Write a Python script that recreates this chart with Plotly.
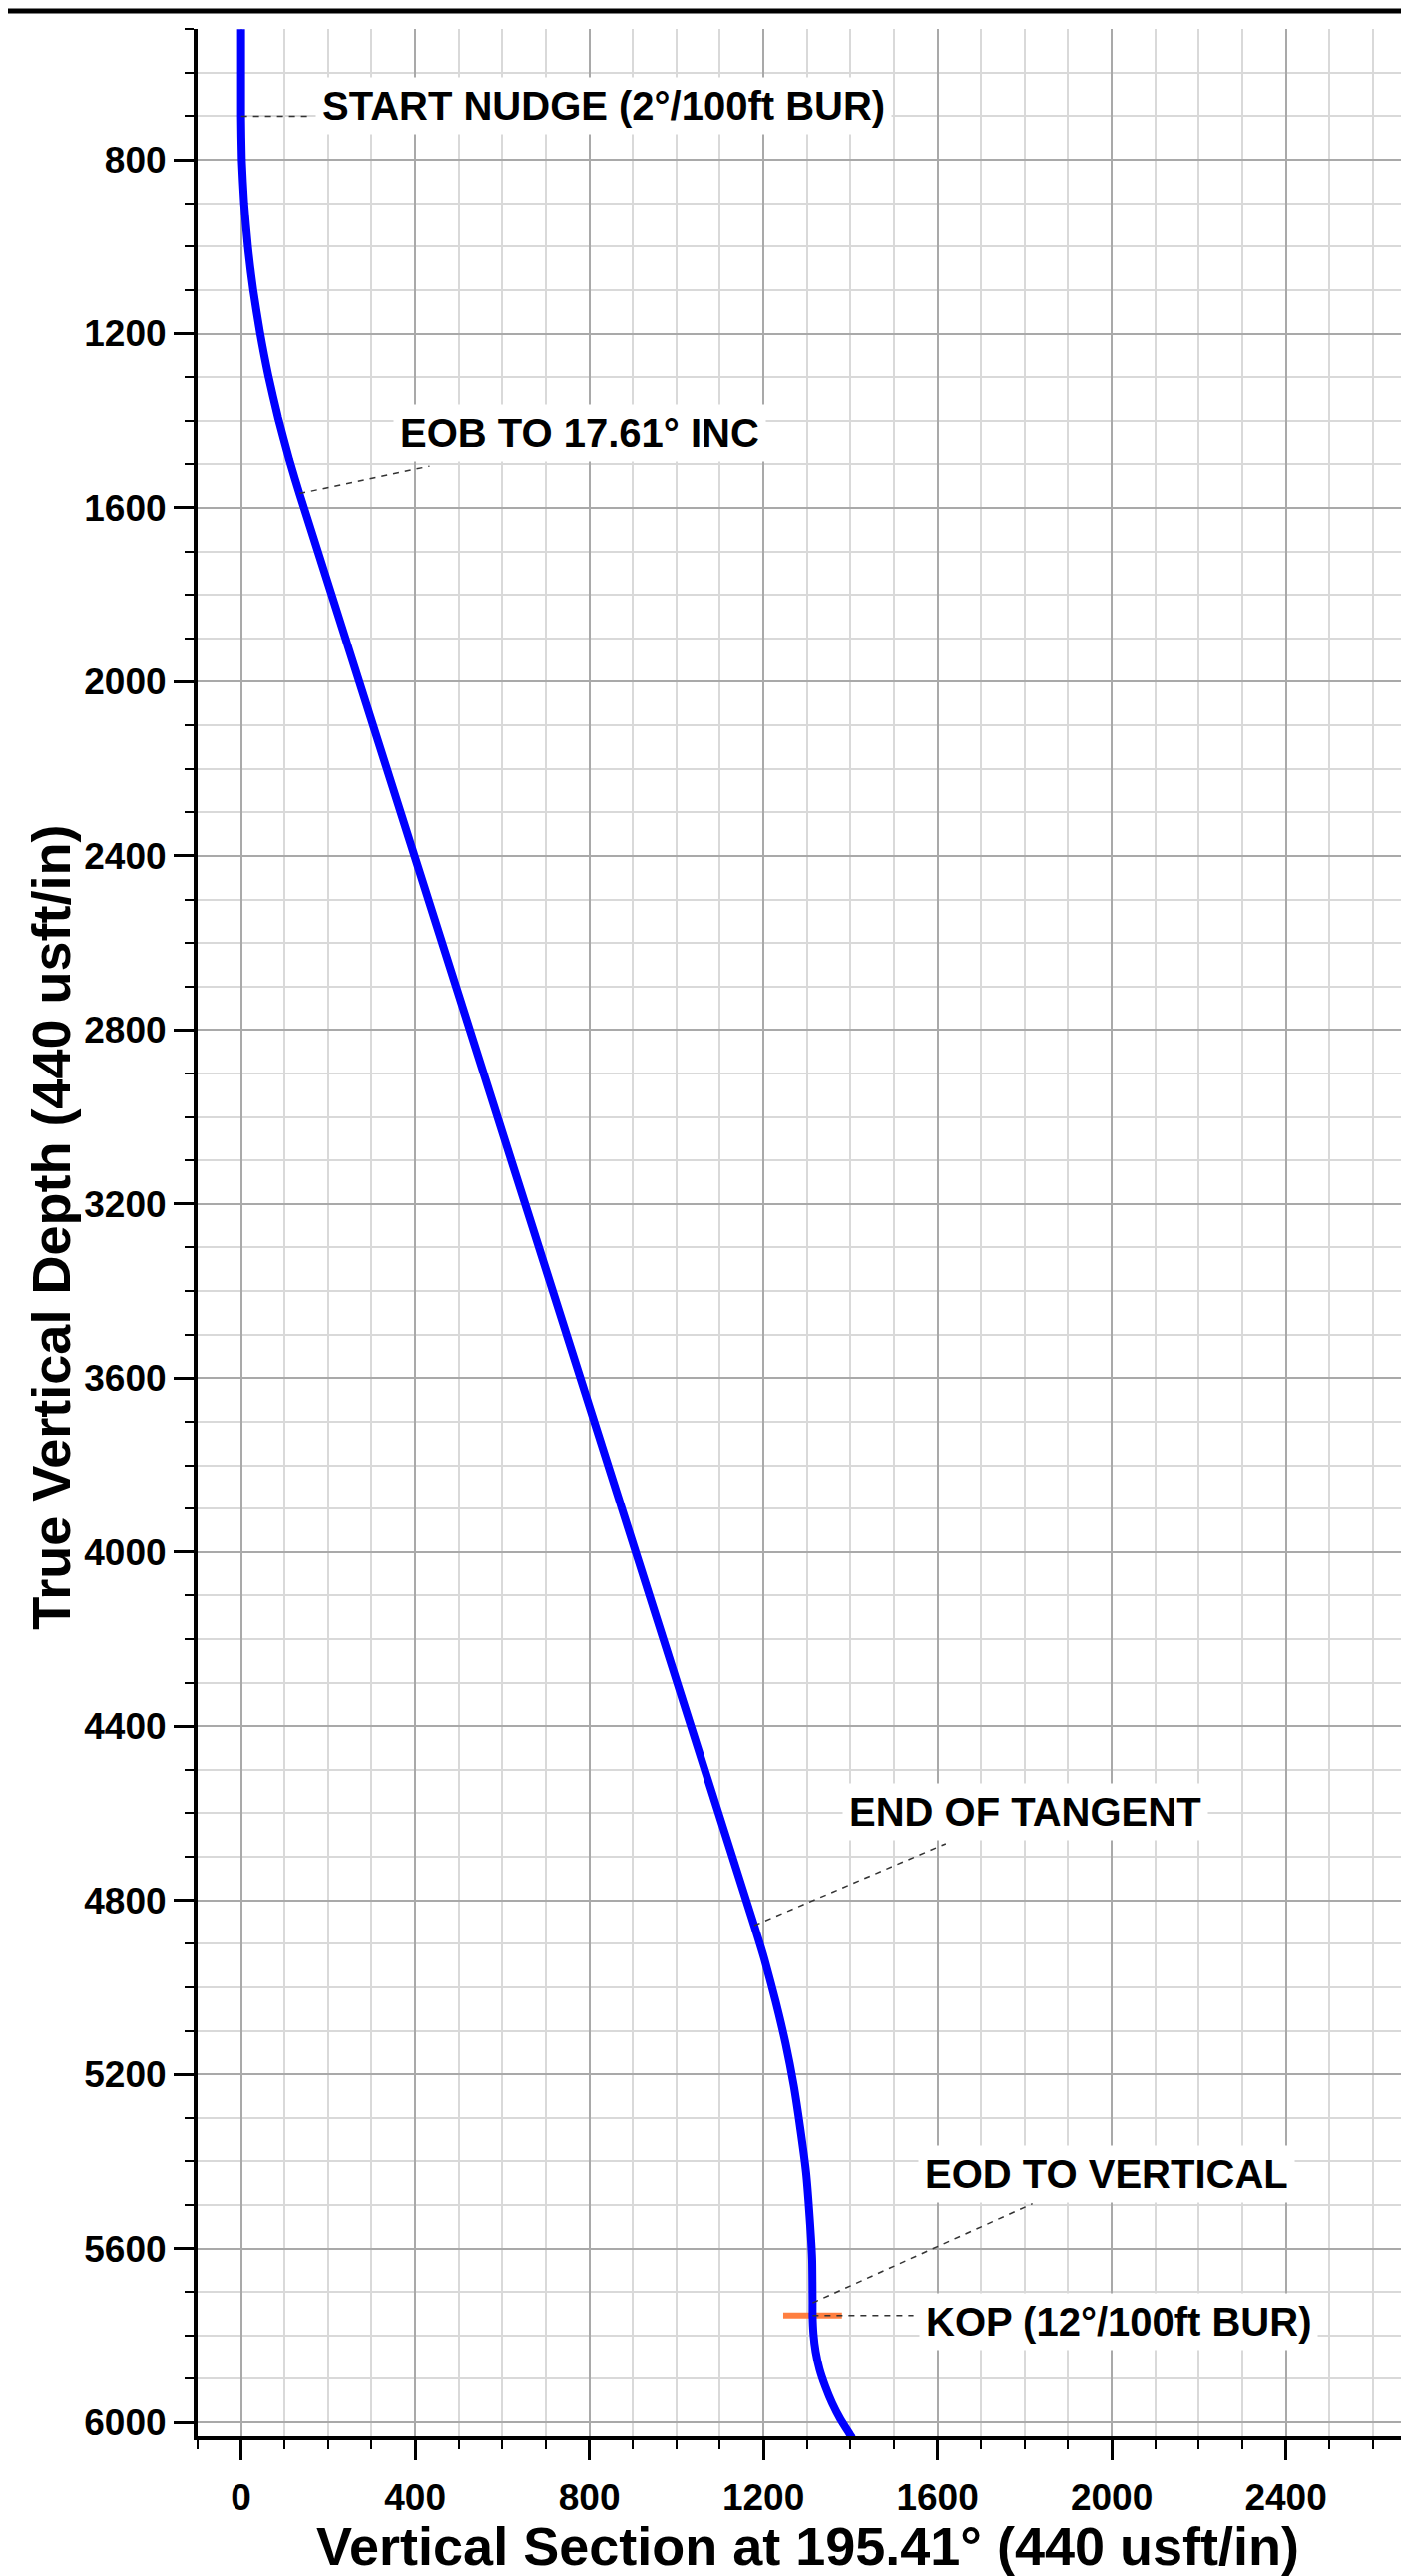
import plotly.graph_objects as go

# Well path (vertical section vs true vertical depth)
vs = [0, 0, 1.7, 7.0, 15.7, 27.9, 43.5, 62.6, 85.1, 111.0, 134.2,
      1178.8, 1202.3, 1228, 1251, 1270, 1285, 1298, 1306, 1312, 1313,
      1313, 1315, 1320, 1329, 1342, 1358, 1377, 1399, 1404]
tvd = [500, 700, 800, 900, 999, 1099, 1197, 1296, 1393, 1490, 1567,
       4858, 4935, 5032, 5129, 5227, 5326, 5425, 5525, 5625, 5725,
       5754, 5796, 5837, 5878, 5917, 5956, 5993, 6028, 6036]

# KOP marker
kop_vs = [1313]
kop_tvd = [5754]

# Annotation labels and where they point on the path
labels = ["START NUDGE (2°/100ft BUR)", "EOB TO 17.61° INC", "END OF TANGENT",
          "EOD TO VERTICAL", "KOP (12°/100ft BUR)"]
anchor_vs = [0, 134, 1179, 1313, 1313]
anchor_tvd = [700, 1567, 4858, 5725, 5754]

# Label placement (layout)
label_vs = [833, 778, 1802, 1988, 2015]
label_tvd = [675, 1428, 4596, 5429, 5768]
leader_end_vs = [165, 433, 1619, 1818, 1545]
leader_end_tvd = [700, 1504, 4670, 5497, 5754]

x_title = "Vertical Section at 195.41° (440 usft/in)"
y_title = "True Vertical Depth (440 usft/in)"

FONT = "Liberation Sans, Arial, sans-serif"

fig = go.Figure()

fig.add_trace(go.Scatter(
    x=kop_vs, y=kop_tvd, mode="markers",
    marker=dict(symbol="line-ew", size=42, color="#FF7F40",
                line=dict(color="#FF7F40", width=6)),
    hoverinfo="skip", showlegend=False))

fig.add_trace(go.Scatter(
    x=vs, y=tvd, mode="lines",
    line=dict(color="#0000FF", width=8, shape="spline", smoothing=0.5),
    showlegend=False))

shapes = []
for ax_, ay_, ex, ey in zip(anchor_vs, anchor_tvd, leader_end_vs, leader_end_tvd):
    shapes.append(dict(type="line", xref="x", yref="y", x0=ax_, y0=ay_, x1=ex, y1=ey,
                       line=dict(color="#333333", width=1.5, dash="6px,6px"),
                       layer="above"))
# thick black rule at the very top of the page
shapes.append(dict(type="line", xref="paper", yref="paper",
                   x0=-0.2, x1=1.05, y0=1.0075, y1=1.0075,
                   line=dict(color="black", width=5)))

annotations = []
for t, lx, ly in zip(labels, label_vs, label_tvd):
    annotations.append(dict(x=lx, y=ly, xref="x", yref="y", text=t, showarrow=False,
                            font=dict(family=FONT, size=40, color="black", weight="bold"),
                            bgcolor="white", borderpad=6,
                            xanchor="center", yanchor="middle"))

# axis titles
annotations.append(dict(x=0.504, y=-0.0455, xref="paper", yref="paper", text=x_title,
                        showarrow=False, xanchor="center", yanchor="middle",
                        font=dict(family=FONT, size=54, color="black", weight="bold")))
annotations.append(dict(x=-0.121, y=0.502, xref="paper", yref="paper", text=y_title,
                        showarrow=False, xanchor="center", yanchor="middle", textangle=-90,
                        font=dict(family=FONT, size=54, color="black", weight="bold")))

axis_common = dict(
    automargin=False,
    showgrid=True, gridcolor="#a9a9a9", gridwidth=2,
    zeroline=False,
    showline=True, linecolor="black", linewidth=4,
    ticks="outside", ticklen=20, tickwidth=3, tickcolor="black",
    tickfont=dict(family=FONT, size=37, color="black", weight="bold"),
    minor=dict(dtick=100, showgrid=True, gridcolor="#d9d9d9", gridwidth=2,
               ticks="outside", ticklen=9, tickwidth=2, tickcolor="black"),
)

fig.update_layout(
    width=1412, height=2582,
    margin=dict(l=190, r=8, t=21, b=148),
    paper_bgcolor="white", plot_bgcolor="white",
    shapes=shapes, annotations=annotations,
    xaxis=dict(range=[-100, 2683], tick0=0, dtick=400, ticklabelstandoff=6,
               **axis_common),
    yaxis=dict(range=[6032, 499.5], tick0=0, dtick=400,
               **axis_common),
)

fig.write_html("out.html")
